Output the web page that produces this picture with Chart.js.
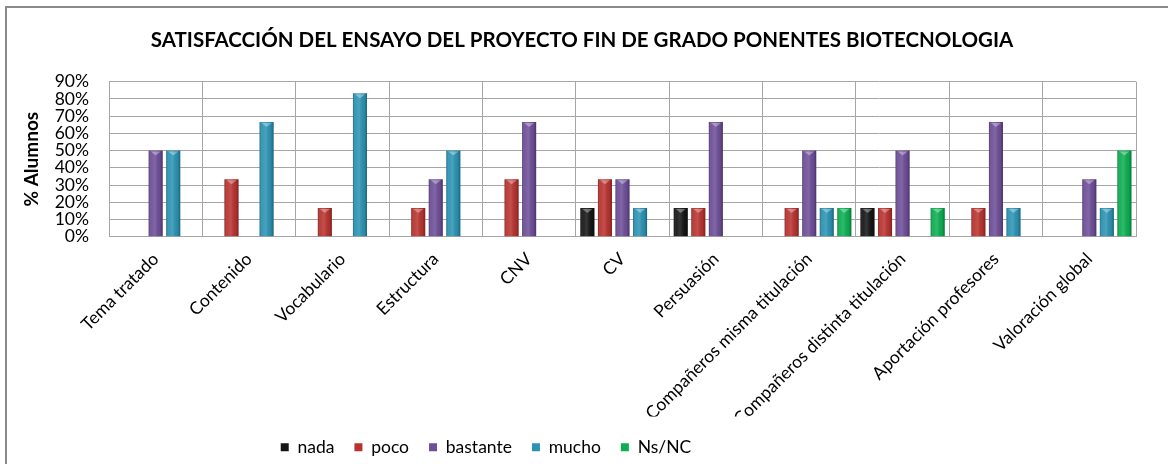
<!DOCTYPE html>
<html><head><meta charset="utf-8">
<script src="https://cdn.jsdelivr.net/npm/chart.js@4/dist/chart.umd.min.js"></script>
<style>
html,body{margin:0;padding:0;background:#fff;overflow:hidden;}
#wrap{position:relative;width:1168px;height:464px;overflow:hidden;}
#frame{position:absolute;left:5px;top:6px;width:1200px;height:500px;border-left:2px solid #8a8a8a;border-top:2px solid #8a8a8a;pointer-events:none;}
canvas{position:absolute;left:0;top:0;}
</style></head><body>
<div id="wrap"><canvas id="c" width="1168" height="464"></canvas><div id="frame"></div></div>
<script>
const categories = ['Tema tratado','Contenido','Vocabulario','Estructura','CNV','CV','Persuasión','Compañeros misma titulación','Compañeros distinta titulación','Aportación profesores','Valoración global'];
const seriesNames = ['nada','poco','bastante','mucho','Ns/NC'];
const nada     = [null, null, null, null, null, 16.67, 16.67, null, 16.67, null, null];
const poco     = [null, 33.33, 16.67, 16.67, 33.33, 33.33, 16.67, 16.67, 16.67, 16.67, null];
const bastante = [50, null, null, 33.33, 66.67, 33.33, 66.67, 50, 50, 66.67, 33.33];
const mucho    = [50, 66.67, 83.33, 50, null, 16.67, null, 16.67, null, 16.67, 16.67];
const nsnc     = [null, null, null, null, null, null, null, 16.67, 16.67, null, 50];
const yTickLabels = ['0%','10%','20%','30%','40%','50%','60%','70%','80%','90%'];
const titleText = 'SATISFACCIÓN DEL ENSAYO DEL PROYECTO FIN DE GRADO PONENTES BIOTECNOLOGIA';
const yTitle = '% Alumnos';

const colors = ['#151515','#b8332f','#6d4e98','#2b93b3','#0cae52'];
const seriesData = [nada, poco, bastante, mucho, nsnc];

const FONT = 'Lato';

const bevel = {
  id: 'bevel',
  afterDatasetsDraw(chart) {
    const ctx = chart.ctx;
    chart.data.datasets.forEach((ds, di) => {
      const meta = chart.getDatasetMeta(di);
      meta.data.forEach((el, i) => {
        if (ds.data[i] == null) return;
        const p = el.getProps(['x','y','base','width'], true);
        const l = p.x - p.width/2, r = p.x + p.width/2;
        const g = ctx.createLinearGradient(l, 0, r, 0);
        g.addColorStop(0, 'rgba(0,0,0,0.28)');
        g.addColorStop(0.18, 'rgba(255,255,255,0.06)');
        g.addColorStop(0.45, 'rgba(255,255,255,0.14)');
        g.addColorStop(0.8, 'rgba(0,0,0,0.05)');
        g.addColorStop(1, 'rgba(0,0,0,0.32)');
        ctx.save();
        ctx.fillStyle = g;
        ctx.fillRect(l, p.y, p.width, p.base - p.y);
        ctx.fillStyle = 'rgba(255,255,255,0.35)';
        ctx.beginPath();
        ctx.moveTo(l + 2, p.y + 1);
        ctx.lineTo(r - 2, p.y + 1);
        ctx.lineTo(p.x, p.y + 5);
        ctx.closePath();
        ctx.fill();
        ctx.restore();
      });
    });
  }
};

const boxShift = {
  id: 'boxShift',
  afterLayout(chart) {
    const lg = chart.legend;
    lg.left -= 87; lg.right -= 87;
    lg.top += 2; lg.bottom += 2;
    const tb = chart.titleBlock;
    if (tb) { tb.left += 9; tb.right += 9; }
  }
};

new Chart(document.getElementById('c'), {
  type: 'bar',
  data: {
    labels: categories,
    datasets: seriesData.map((d, i) => ({
      label: seriesNames[i],
      data: d,
      backgroundColor: colors[i],
      borderWidth: 0,
      barPercentage: 0.8,
      categoryPercentage: 0.94
    }))
  },
  options: {
    responsive: false,
    animation: false,
    devicePixelRatio: 1,
    layout: { padding: { left: 10, right: 32, top: 0, bottom: 0 } },
    plugins: {
      title: {
        display: true,
        text: titleText,
        color: '#000',
        font: { family: FONT, size: 20.5, weight: 'bold' },
        padding: { top: 27.7, bottom: 29.4 }
      },
      legend: {
        position: 'bottom',
        labels: {
          color: '#000',
          boxWidth: 8, boxHeight: 8,
          padding: 20,
          font: { family: FONT, size: 17.5 }
        }
      },
      tooltip: { enabled: false }
    },
    scales: {
      x: {
        grid: { color: '#a6a6a6', offset: true, drawTicks: false },
        border: { color: '#a6a6a6' },
        ticks: {
          color: '#000', autoSkip: false, minRotation: 45, maxRotation: 45, padding: 12,
          font: { family: FONT, size: 17.5 }
        },
        afterFit: s => { s.height = 179.8; }
      },
      y: {
        min: 0, max: 90,
        ticks: {
          stepSize: 10, color: '#000', padding: 20, autoSkip: false,
          font: { family: FONT, size: 17.5 },
          callback: (v, i) => yTickLabels[i]
        },
        grid: { color: '#a6a6a6', drawTicks: false },
        border: { color: '#a6a6a6' },
        title: {
          display: true, text: yTitle, color: '#000',
          font: { family: FONT, size: 19, weight: 'bold' },
          padding: { top: 10.6, bottom: 0 }
        },
        afterFit: s => { s.width = 99; }
      }
    }
  },
  plugins: [bevel, boxShift]
});
</script>
</body></html>
